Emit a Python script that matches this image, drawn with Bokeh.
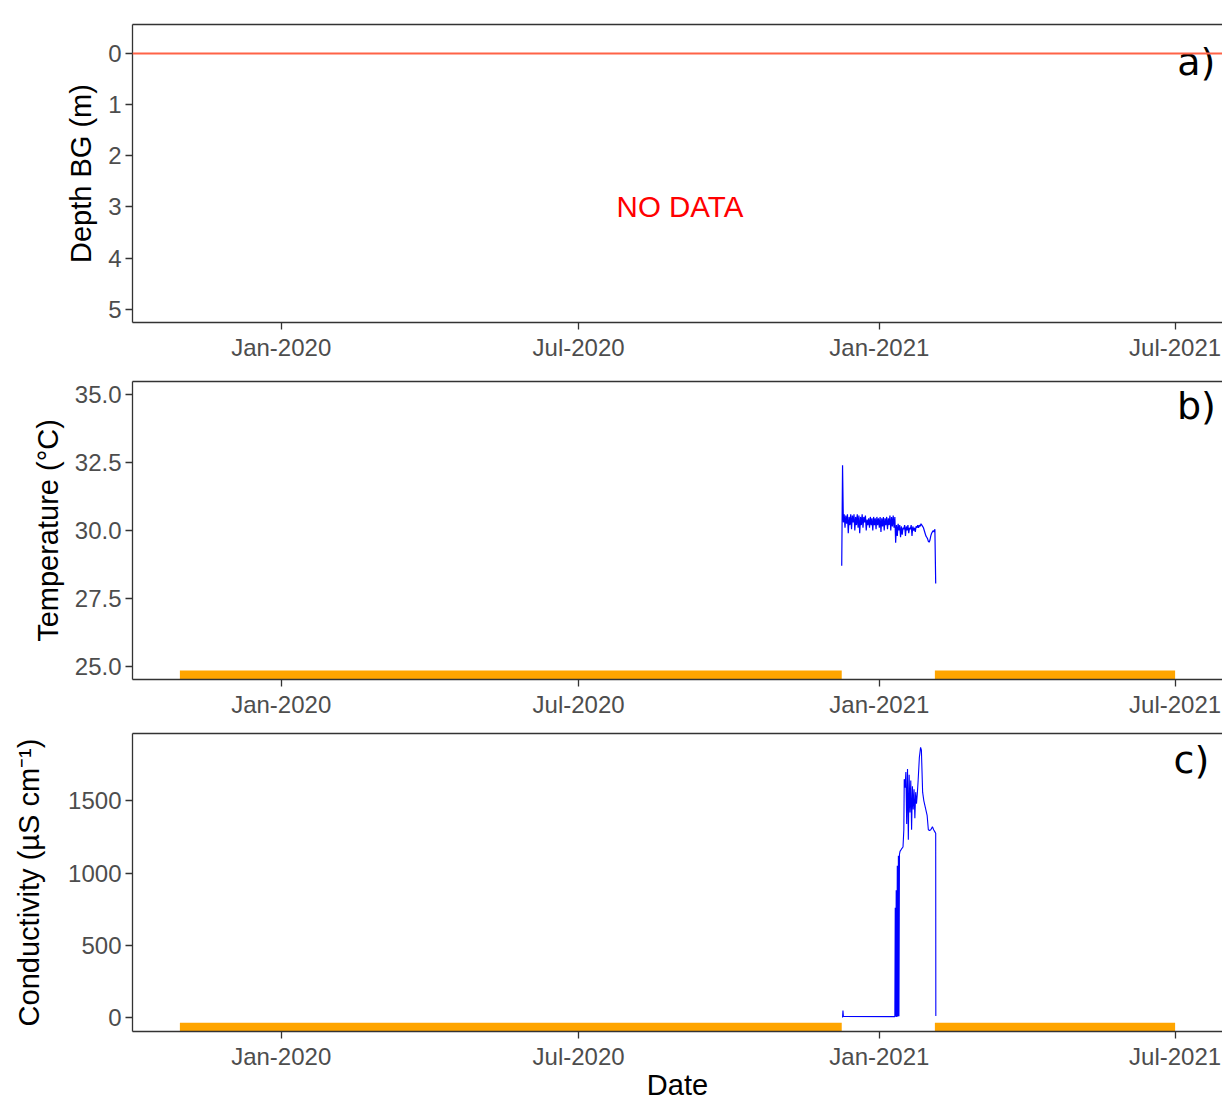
import pandas as pd
from bokeh.plotting import figure
from bokeh.layouts import column
from bokeh.models import (Range1d, FixedTicker, DatetimeTickFormatter,
                          NumeralTickFormatter, LinearAxis, Span)
from bokeh.core.properties import value
from bokeh.embed import file_html
from bokeh.resources import INLINE

# ---- shared time axis -------------------------------------------------
x_start = "2019-10-02"
x_end = "2021-07-30"
date_ticks = ["2020-01-01", "2020-07-01", "2021-01-01", "2021-07-01"]

# periods without logger record (orange bars)
gap_starts = ["2019-10-31", "2021-02-04"]
gap_ends = ["2020-12-09", "2021-07-01"]

# ---- panel a: depth below ground ---------------------------------------
depth_ticks = [0, 1, 2, 3, 4, 5]
ground_level = 0
no_data_date = "2020-09-01"
no_data_depth = 3

# ---- panel b: temperature (12-hourly readings) -------------------------
temp_ticks = [25.0, 27.5, 30.0, 32.5, 35.0]
temp_start = "2020-12-09 00:00"
temp_values = [
    28.7, 32.4, 30.3, 30.6, 30.1, 30.55, 30.25, 30.6, 29.9, 30.5,
    30.2, 30.6, 30.05, 30.55, 30.3, 30.6, 30.0, 30.5, 30.2, 30.6,
    30.1, 30.55, 29.9, 30.5, 30.2, 30.6, 30.1, 30.5, 30.3, 30.55,
    30.0, 30.4, 30.2, 30.45, 30.1, 30.5, 30.2, 30.45, 30.0, 30.5,
    30.2, 30.45, 30.05, 30.5, 30.2, 30.45, 30.1, 30.5, 29.95, 30.45,
    30.15, 30.5, 30.0, 30.45, 30.2, 30.5, 30.05, 30.45, 30.2, 30.55,
    30.0, 30.5, 30.15, 30.55, 30.1, 30.5, 29.55, 30.2, 29.8, 30.25,
    30.0, 30.2, 29.75, 30.15, 29.85, 30.1, 30.05, 30.2, 29.8, 30.15,
    30.0, 30.2, 29.9, 30.1, 30.05, 30.2, 29.8, 30.15, 30.0, 30.1,
    29.95, 30.15, 30.1, 30.2, 30.1, 30.2, 30.15, 30.25, 30.2, 30.15,
    30.1, 30.0, 29.9, 29.8, 29.75, 29.7, 29.6, 29.57, 29.65, 29.8,
    29.9, 29.95, 30.0, 29.95, 30.05, 28.05,
]

# ---- panel c: electrical conductivity ----------------------------------
cond_ticks = [0, 500, 1000, 1500]
cond_times = [
    "2020-12-09 12:00", "2020-12-09 18:00", "2020-12-10 00:00",
    "2021-01-10 12:00", "2021-01-10 18:00", "2021-01-11 00:00",
    "2021-01-11 08:00", "2021-01-11 16:00", "2021-01-12 00:00",
    "2021-01-12 08:00", "2021-01-12 16:00", "2021-01-13 00:00",
    "2021-01-13 08:00", "2021-01-13 16:00", "2021-01-14 12:00",
    "2021-01-15 12:00", "2021-01-16 00:00", "2021-01-16 06:00",
    "2021-01-16 18:00", "2021-01-17 06:00", "2021-01-17 18:00",
    "2021-01-18 06:00", "2021-01-18 18:00", "2021-01-19 06:00",
    "2021-01-19 18:00", "2021-01-20 06:00", "2021-01-20 18:00",
    "2021-01-21 06:00", "2021-01-21 18:00", "2021-01-22 06:00",
    "2021-01-22 18:00", "2021-01-23 06:00", "2021-01-23 18:00",
    "2021-01-24 06:00", "2021-01-24 18:00", "2021-01-25 12:00",
    "2021-01-26 06:00", "2021-01-26 18:00", "2021-01-27 12:00",
    "2021-01-28 06:00", "2021-01-29 06:00", "2021-01-30 06:00",
    "2021-01-31 00:00", "2021-01-31 18:00", "2021-02-01 12:00",
    "2021-02-02 12:00", "2021-02-03 06:00", "2021-02-04 00:00",
    "2021-02-04 12:00", "2021-02-04 14:00",
]
cond_values = [
    0, 48, 8,
    6, 760, 5,
    880, 4, 1050,
    6, 1120, 8,
    1130, 1150, 1165,
    1180, 1300, 1650,
    1590, 1700, 1340,
    1720, 1230, 1680,
    1420, 1640, 1300,
    1600, 1440, 1580,
    1380, 1560, 1480,
    1550, 1640, 1800,
    1870, 1850, 1560,
    1500, 1450, 1400,
    1300, 1295, 1300,
    1320, 1300, 1285,
    1275, 10,
]

FRAME_W = 1090
FRAME_H = 298
AXIS_COL = "#333333"
TICK_COL = "#4D4D4D"
SANS = "Liberation Sans"
BLUE = "#0000FF"
ORANGE = "#FFA500"


def ts(s):
    return pd.Timestamp(s)


def make_panel(y_range, top, bottom, y_ticks, y_fmt, y_label,
               label_gap=8, x_label=None):
    p = figure(x_axis_type="datetime",
               x_range=Range1d(ts(x_start), ts(x_end)),
               y_range=y_range,
               frame_width=FRAME_W, frame_height=FRAME_H,
               min_border_left=132, min_border_right=0,
               min_border_top=top, min_border_bottom=bottom,
               output_backend="svg", toolbar_location=None,
               background_fill_color="white", border_fill_color="white")
    p.outline_line_color = None
    p.grid.visible = False

    p.xaxis.ticker = FixedTicker(ticks=[ts(d).value // 10**6 for d in date_ticks])
    fmt = "%b-%Y"
    p.xaxis.formatter = DatetimeTickFormatter(
        milliseconds=fmt, seconds=fmt, minsec=fmt, minutes=fmt, hourmin=fmt,
        hours=fmt, days=fmt, months=fmt, years=fmt)
    p.yaxis.ticker = FixedTicker(ticks=y_ticks)
    p.yaxis.formatter = NumeralTickFormatter(format=y_fmt)

    for ax in (p.xaxis[0], p.yaxis[0]):
        ax.axis_line_color = AXIS_COL
        ax.axis_line_width = 1.3
        ax.major_tick_line_color = AXIS_COL
        ax.major_tick_line_width = 1.3
        ax.major_tick_out = 7
        ax.major_tick_in = 0
        ax.minor_tick_line_color = None
        ax.major_label_text_font = SANS
        ax.major_label_text_font_size = "24px"
        ax.major_label_text_color = TICK_COL
        ax.major_label_standoff = 4
        ax.axis_label_text_font = SANS
        ax.axis_label_text_font_size = "29px"
        ax.axis_label_text_font_style = "normal"
        ax.axis_label_text_color = "black"

    p.yaxis.axis_label = y_label
    p.yaxis.axis_label_standoff = label_gap
    if x_label:
        p.xaxis.axis_label = x_label
        p.xaxis.axis_label_standoff = -4

    # top border of the panel
    top_axis = LinearAxis(ticker=FixedTicker(ticks=[]),
                          axis_line_color=AXIS_COL, axis_line_width=1.3,
                          major_tick_line_color=None,
                          minor_tick_line_color=None,
                          major_label_text_font_size="0px")
    p.add_layout(top_axis, "above")
    return p


def panel_tag(p, x, y, txt):
    p.text(x=[ts(x)], y=[y], text=[txt], text_font=value("DejaVu Sans"),
           text_font_size="38px", text_color="black",
           text_align="center", text_baseline="middle")


# ---- a) depth --------------------------------------------------------------
pa = make_panel(Range1d(5.26, -0.566), 24, 42, depth_ticks, "0", "Depth BG (m)")
pa.add_layout(Span(location=ground_level, dimension="width",
                   line_color="#FF6347", line_width=2))
pa.text(x=[ts(no_data_date)], y=[no_data_depth], text=["NO DATA"],
        text_font=value(SANS), text_font_size="29.5px", text_color="#FF0000",
        text_align="center", text_baseline="middle")
panel_tag(pa, "2021-07-14", 0.16, "a)")

# ---- b) temperature --------------------------------------------------------
t_lo, t_hi = 24.51, 35.49
pb = make_panel(Range1d(t_lo, t_hi), 17, 42, temp_ticks, "0.0", "Temperature (°C)")
temp_times = pd.date_range(temp_start, periods=len(temp_values), freq="12h")
pb.line(temp_times, temp_values, line_color=BLUE, line_width=1.2)
pb.quad(left=[ts(d) for d in gap_starts], right=[ts(d) for d in gap_ends],
        bottom=t_lo, top=t_lo + 0.33, fill_color=ORANGE, line_color=None)
panel_tag(pb, "2021-07-14", 34.6, "b)")

# ---- c) conductivity -------------------------------------------------------
c_lo, c_hi = -97, 1966
pc = make_panel(Range1d(c_lo, c_hi), 12, 68, cond_ticks, "0",
                "Conductivity (µS cm⁻¹)", label_gap=20, x_label="Date")
pc.line([ts(t) for t in cond_times], cond_values, line_color=BLUE, line_width=1.1)
pc.quad(left=[ts(d) for d in gap_starts], right=[ts(d) for d in gap_ends],
        bottom=c_lo, top=c_lo + 60, fill_color=ORANGE, line_color=None)
panel_tag(pc, "2021-07-11", 1780, "c)")

layout = column(pa, pb, pc, spacing=0)
open("out.html", "w").write(file_html(layout, INLINE))
